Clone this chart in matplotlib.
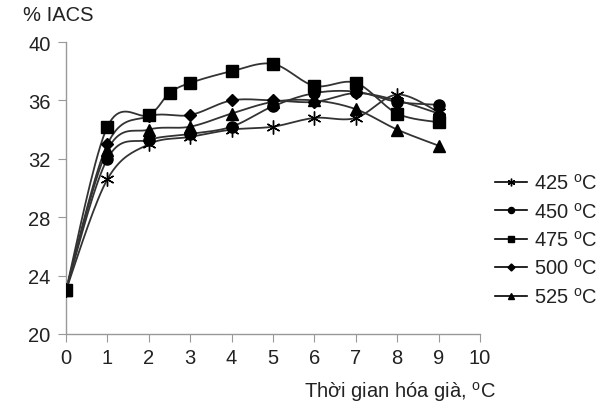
import numpy as np
import matplotlib
matplotlib.use("Agg")
import matplotlib.pyplot as plt

plt.rcParams['font.family'] = ['Liberation Sans', 'DejaVu Sans']

# Data
x_425 = [0, 1, 2, 3, 4, 5, 6, 7, 8, 9]
y_425 = [23.0, 30.6, 33.0, 33.5, 34.0, 34.2, 34.8, 34.8, 36.4, 35.2]
x_450 = [0, 1, 2, 3, 4, 5, 6, 7, 8, 9]
y_450 = [23.0, 32.0, 33.3, 33.7, 34.2, 35.6, 36.5, 36.6, 35.9, 35.7]
x_475 = [0, 1, 2, 2.5, 3, 4, 5, 6, 7, 8, 9]
y_475 = [23.0, 34.2, 35.0, 36.5, 37.2, 38.0, 38.5, 37.0, 37.2, 35.1, 34.5]
x_500 = [0, 1, 2, 3, 4, 5, 6, 7, 8, 9]
y_500 = [23.0, 33.0, 34.9, 35.0, 36.0, 36.0, 35.9, 36.5, 36.0, 35.1]
x_525 = [0, 1, 2, 3, 4, 5, 6, 7, 8, 9]
y_525 = [23.0, 32.6, 34.0, 34.2, 35.1, 35.9, 36.0, 35.4, 34.0, 32.9]

labels = ["425 $^{\\mathregular{o}}$C", "450 $^{\\mathregular{o}}$C",
          "475 $^{\\mathregular{o}}$C", "500 $^{\\mathregular{o}}$C",
          "525 $^{\\mathregular{o}}$C"]
x_ticks = list(range(0, 11))
y_ticks = [20, 24, 28, 32, 36, 40]

FS = 14.5


def smooth(xs, ys, n=20):
    """Catmull-Rom rendering curve through the points (Excel-like smoothing)."""
    xs = np.asarray(xs, float)
    ys = np.asarray(ys, float)
    P = np.column_stack([xs, ys])
    P = np.vstack([P[0], P, P[-1]])
    out = []
    for i in range(1, len(P) - 2):
        p0, p1, p2, p3 = P[i - 1], P[i], P[i + 1], P[i + 2]
        t = np.linspace(0, 1, n)[:, None]
        c1 = p1 + (p2 - p0) / 6.0
        c2 = p2 - (p3 - p1) / 6.0
        seg = ((1 - t) ** 3) * p1 + 3 * ((1 - t) ** 2) * t * c1 + 3 * (1 - t) * t ** 2 * c2 + t ** 3 * p2
        out.append(seg if i == 1 else seg[1:])
    seg = np.vstack(out)
    return seg[:, 0], seg[:, 1]


fig = plt.figure(figsize=(6.0, 4.06), dpi=100)
ax = fig.add_axes([0.11, 0.175, 0.69, 0.719])

series = [
    (x_425, y_425, dict(marker=(6, 2, 0), markersize=10, markeredgewidth=1.0)),
    (x_450, y_450, dict(marker='o', markersize=8)),
    (x_475, y_475, dict(marker='s', markersize=8.5)),
    (x_500, y_500, dict(marker='D', markersize=6.5)),
    (x_525, y_525, dict(marker='^', markersize=9)),
]

handles = []
for (xs, ys, mk), lab in zip(series, labels):
    sx, sy = smooth(xs, ys)
    ax.plot(sx, sy, color='#333333', lw=1.3, zorder=2)
    ax.plot(xs, ys, linestyle='none', color='black', zorder=3, **mk)
    h, = ax.plot([], [], color='black', lw=1.2, **mk)
    handles.append(h)

ax.set_xlim(0, 10)
ax.set_ylim(20, 40)
ax.set_xticks(x_ticks)
ax.set_yticks(y_ticks)
ax.tick_params(axis='both', direction='out', length=6, color='#999999',
               labelsize=FS, labelcolor='#222222')
ax.tick_params(axis='y', pad=5)
ax.tick_params(axis='x', pad=4)
for s in ['top', 'right']:
    ax.spines[s].set_visible(False)
for s in ['left', 'bottom']:
    ax.spines[s].set_color('#999999')
    ax.spines[s].set_linewidth(1.0)

fig.text(0.038, 0.963, "% IACS", fontsize=FS, color='#222222', va='center')
fig.text(0.667, 0.035, "Thời gian hóa già, $^{\\mathregular{o}}$C", fontsize=FS,
         color='#222222', ha='center', va='center')

leg = fig.legend(handles, labels, loc='upper left', bbox_to_anchor=(0.825, 0.572),
                 frameon=False, fontsize=FS, handlelength=1.6, labelspacing=0.42,
                 markerscale=0.55, handletextpad=0.35, borderpad=0, borderaxespad=0)
for t in leg.get_texts():
    t.set_color('#222222')

fig.savefig("out.png", dpi=100)
